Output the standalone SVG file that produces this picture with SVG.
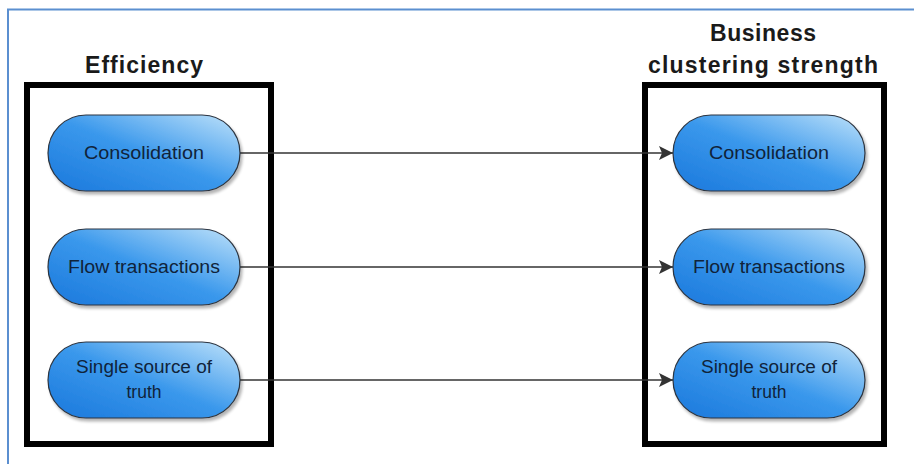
<svg xmlns="http://www.w3.org/2000/svg" width="914" height="464" viewBox="0 0 914 464">
  <defs>
    <linearGradient id="pill" x1="0" y1="1" x2="1" y2="0">
      <stop offset="0" stop-color="#1a78dc"/>
      <stop offset="0.5" stop-color="#3a98ec"/>
      <stop offset="1" stop-color="#bfe2fa"/>
    </linearGradient>
    <filter id="shadow" x="-10%" y="-10%" width="125%" height="135%">
      <feGaussianBlur in="SourceAlpha" stdDeviation="1.5"/>
      <feOffset dx="2" dy="3" result="b"/>
      <feComponentTransfer><feFuncA type="linear" slope="0.3"/></feComponentTransfer>
      <feMerge><feMergeNode/><feMergeNode in="SourceGraphic"/></feMerge>
    </filter>
    <marker id="arrow" markerWidth="14" markerHeight="14" refX="14" refY="7" orient="auto" markerUnits="userSpaceOnUse">
      <path d="M0,0 L14,7 L0,14 L3,7 Z" fill="#333"/>
    </marker>
  </defs>
  <style>
    .frame { fill: none; stroke: #5b8fd0; stroke-width: 2; }
    .group { fill: none; stroke: #000; stroke-width: 6; }
    .title { font-family: "Liberation Sans", Arial, sans-serif; font-weight: bold; font-size: 23px; fill: #1a1a1a; text-anchor: middle; }
    .node rect { fill: url(#pill); stroke: #2b3440; stroke-width: 1.2; filter: url(#shadow); }
    .node text { font-family: "Liberation Sans", Arial, sans-serif; font-size: 17.5px; fill: #10233a; text-anchor: middle; }
    .edge { stroke: #333; stroke-width: 1.6; fill: none; marker-end: url(#arrow); }
  </style>

  <rect width="914" height="464" fill="#fff"/>
  <!-- page border -->
  <path class="frame" d="M8,470 V9.5 H920"/>

  <!-- group frames and headings -->
  <g id="efficiency">
    <rect class="group" x="27" y="85" width="244" height="359"/>
    <text class="title" x="144" y="73" textLength="118">Efficiency</text>
  </g>
  <g id="business-clustering-strength">
    <rect class="group" x="645" y="85" width="239" height="359"/>
    <text class="title" x="763" y="41" textLength="106">Business</text>
    <text class="title" x="763" y="73" textLength="230">clustering strength</text>
  </g>

  <!-- connectors -->
  <g id="connectors">
    <line class="edge" x1="240" y1="153" x2="673" y2="153"/>
    <line class="edge" x1="240" y1="267" x2="673" y2="267"/>
    <line class="edge" x1="240" y1="380" x2="673" y2="380"/>
  </g>

  <!-- left nodes -->
  <g id="consolidation-left" class="node">
    <rect x="48" y="115" width="192" height="76" rx="38"/>
    <text x="144" y="159" textLength="120" lengthAdjust="spacingAndGlyphs">Consolidation</text>
  </g>
  <g id="flow-transactions-left" class="node">
    <rect x="48" y="229" width="192" height="76" rx="38"/>
    <text x="144" y="273" textLength="152" lengthAdjust="spacingAndGlyphs">Flow transactions</text>
  </g>
  <g id="single-source-left" class="node">
    <rect x="48" y="342" width="192" height="76" rx="38"/>
    <text x="144" y="373" textLength="136" lengthAdjust="spacingAndGlyphs">Single source of</text>
    <text x="144" y="398">truth</text>
  </g>

  <!-- right nodes -->
  <g id="consolidation-right" class="node">
    <rect x="673" y="115" width="192" height="76" rx="38"/>
    <text x="769" y="159" textLength="120" lengthAdjust="spacingAndGlyphs">Consolidation</text>
  </g>
  <g id="flow-transactions-right" class="node">
    <rect x="673" y="229" width="192" height="76" rx="38"/>
    <text x="769" y="273" textLength="152" lengthAdjust="spacingAndGlyphs">Flow transactions</text>
  </g>
  <g id="single-source-right" class="node">
    <rect x="673" y="342" width="192" height="76" rx="38"/>
    <text x="769" y="373" textLength="136" lengthAdjust="spacingAndGlyphs">Single source of</text>
    <text x="769" y="398">truth</text>
  </g>
</svg>
